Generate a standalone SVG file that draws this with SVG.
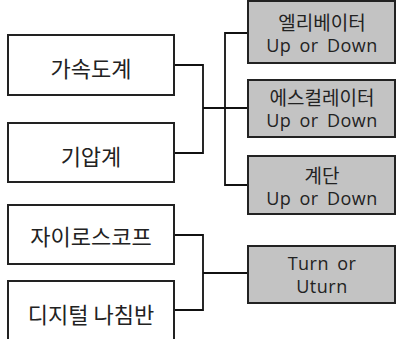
<svg xmlns="http://www.w3.org/2000/svg" width="398" height="339" viewBox="0 0 398 339">
<style>
.lb{fill:#fff;stroke:#222;stroke-width:2}
.rb{fill:#c3c3c3;stroke:#222;stroke-width:2}
.kl{font-family:"Noto Sans CJK KR","Noto Sans",sans-serif;font-size:22px;fill:#222;text-anchor:middle}
.kr{font-family:"Noto Sans CJK KR","Noto Sans",sans-serif;font-size:19px;fill:#222;text-anchor:middle}
.en{font-family:"Open Sans","Noto Sans CJK KR",sans-serif;font-size:18px;fill:#222;text-anchor:middle;letter-spacing:0.5px;word-spacing:3px}
.c{fill:none;stroke:#111;stroke-width:1.8}
</style>
<g id="connectors">
<path class="c" d="M174,65 H203 V153 H174"/>
<path class="c" d="M203,108 H248"/>
<path class="c" d="M248,33 H225 V185 H248"/>
<path class="c" d="M174,235 H203 V310 H174"/>
<path class="c" d="M203,273 H248"/>
</g>
<g id="n1"><rect class="lb" x="8" y="35" width="166" height="60"/><text class="kl" x="91" y="77">가속도계</text></g>
<g id="n2"><rect class="lb" x="8" y="123" width="166" height="59"/><text class="kl" x="91" y="165">기압계</text></g>
<g id="n3"><rect class="lb" x="8" y="205" width="166" height="59"/><text class="kl" x="91" y="245">자이로스코프</text></g>
<g id="n4"><rect class="lb" x="8" y="281" width="166" height="64"/><text class="kl" x="91" y="323">디지털 나침반</text></g>
<g id="r1"><rect class="rb" x="248" y="1" width="147" height="62"/><text class="kr" x="322" y="30">엘리베이터</text><text class="en" x="322" y="52">Up or Down</text></g>
<g id="r2"><rect class="rb" x="248" y="80" width="147" height="57"/><text class="kr" x="322" y="105">에스컬레이터</text><text class="en" x="322" y="127">Up or Down</text></g>
<g id="r3"><rect class="rb" x="248" y="156" width="147" height="58"/><text class="kr" x="322" y="183">계단</text><text class="en" x="322" y="205">Up or Down</text></g>
<g id="r4"><rect class="rb" x="248" y="246" width="147" height="57"/><text class="en" x="322" y="270">Turn or</text><text class="en" x="322" y="293">Uturn</text></g>
</svg>
